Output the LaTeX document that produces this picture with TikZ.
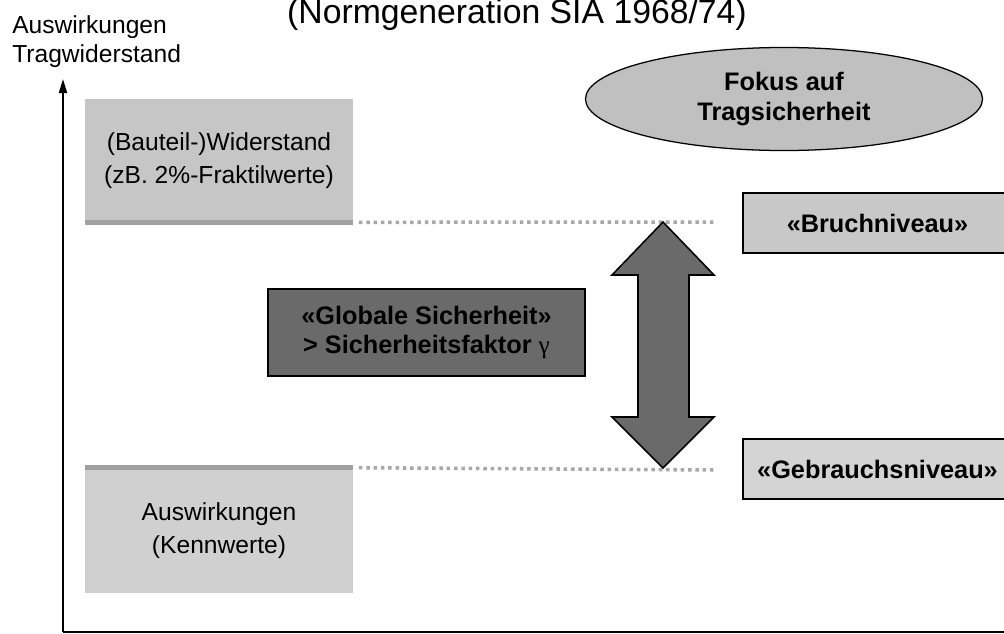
\documentclass[tikz,border=0pt]{standalone}
\usepackage{fontspec}
\setmainfont{Liberation Sans}
\newfontfamily\greekfont{Liberation Serif}
\usetikzlibrary{arrows.meta,shapes.geometric}

\definecolor{widerstandgray}{HTML}{C6C6C6}
\definecolor{auswirkgray}{HTML}{D0D0D0}
\definecolor{bandgray}{HTML}{A0A0A0}
\definecolor{dotgray}{HTML}{A8A8A8}
\definecolor{fokusgray}{HTML}{C0C0C0}
\definecolor{bruchgray}{HTML}{C8C8C8}
\definecolor{gebrauchgray}{HTML}{D4D4D4}
\definecolor{darkgray}{HTML}{6A6A6A}

\begin{document}
\begin{tikzpicture}[x=0.025cm,y=-0.025cm,>={Triangle[length=0.35cm,width=0.2cm]},
  plain/.style={font=\fontsize{17.5}{23.5}\selectfont,align=center},
  lvlbox/.style={draw,line width=1.1pt,font=\fontsize{18}{21}\selectfont\bfseries,align=center,inner sep=0pt},
  band/.style={line width=3.6pt,bandgray},
  dots/.style={line width=2.5pt,dotgray,dash pattern=on 2.5pt off 2.7pt}]
  \useasboundingbox (0,0) rectangle (1004,633);

  % Achsen
  \draw[->,line width=1.4pt] (63,632) -- (63,79);
  \draw[line width=1.4pt] (63,632) -- (1004,632);
  \node[anchor=north west,inner sep=0pt,align=left,font=\fontsize{17.5}{20.6}\selectfont] (achse) at (12,15) {Auswirkungen\\Tragwiderstand};
  \node[anchor=base,inner sep=0pt,font=\fontsize{24}{28}\selectfont] (titel) at (517,23) {(Normgeneration SIA 1968/74)};

  % linke Bloecke
  \node[plain,fill=widerstandgray,minimum width=6.7cm,minimum height=3.075cm,inner sep=0pt] (widerstand) at (219,160.5) {(Bauteil-)Widerstand\\(zB. 2\%-Fraktilwerte)};
  \node[plain,fill=auswirkgray,minimum width=6.7cm,minimum height=3.125cm,inner sep=0pt] (auswirk) at (219,530.5) {Auswirkungen\\(Kennwerte)};
  \draw[band] (widerstand.south west) -- (widerstand.south east);
  \draw[band] (auswirk.north west) -- (auswirk.north east);

  % Niveaus
  \coordinate (bruchend) at (716,222);
  \coordinate (gebrauchend) at (716,470);
  \draw[dots] ([xshift=4pt]widerstand.south east) -- (bruchend);
  \draw[dots] ([xshift=4pt]auswirk.north east) -- (gebrauchend);
  \node[lvlbox,fill=bruchgray,minimum width=6.725cm,minimum height=1.5cm] (bruch) at (877.5,223) {«Bruchniveau»};
  \node[lvlbox,fill=gebrauchgray,minimum width=6.725cm,minimum height=1.5cm] (gebrauch) at (877.5,469) {«Gebrauchsniveau»};

  \node[lvlbox,ellipse,fill=fokusgray,line width=0.9pt,minimum width=9.925cm,minimum height=2.575cm,font=\fontsize{18}{21.3}\selectfont\bfseries] (fokus) at (784,99) {Fokus auf\\Tragsicherheit};

  % Sicherheitsabstand
  \node[lvlbox,fill=darkgray,minimum width=7.925cm,minimum height=2.175cm,font=\fontsize{18}{20}\selectfont\bfseries] (global) at (426.5,332.5) {«Globale Sicherheit»\\> Sicherheitsfaktor {\greekfont\mdseries γ}};
  \draw[fill=darkgray,line width=1.1pt,line join=miter] (663,222) -- (714,275) -- (689,275) -- (689,417) -- (714,417)
    -- (663,468) -- (612,417) -- (638,417) -- (638,275) -- (612,275) -- cycle;
\end{tikzpicture}
\end{document}
